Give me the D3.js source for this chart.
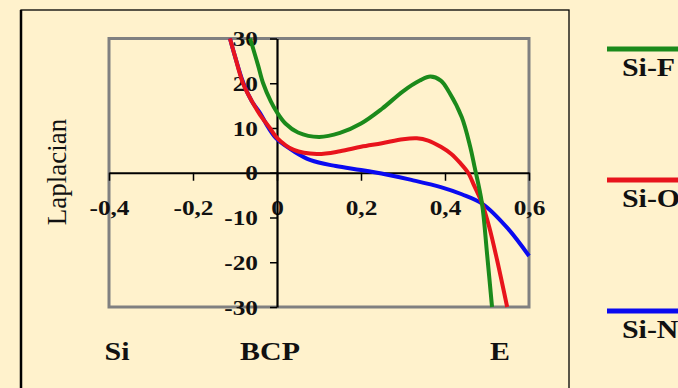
<!DOCTYPE html>
<html>
<head>
<meta charset="utf-8">
<script src="https://cdn.jsdelivr.net/npm/d3@7"></script>
<style>
  html, body { margin: 0; padding: 0; background: #FFF2CC; }
  svg { display: block; }
  text { font-family: "Liberation Serif", "Times New Roman", serif; }
</style>
</head>
<body>
<svg id="chart" width="678" height="388"></svg>
<script>
// Laplacian profiles along the bond path (Si -> BCP -> E)
const xTicks = [-0.4, -0.2, 0, 0.2, 0.4, 0.6];
const yTicks = [-30, -20, -10, 0, 10, 20, 30];

const siFx = [-0.064, -0.045, -0.033, -0.015, 0, 0.02, 0.05, 0.1, 0.15, 0.2, 0.25, 0.3, 0.34, 0.365, 0.39, 0.41, 0.44, 0.46, 0.47, 0.488, 0.5, 0.512];
const siFy = [30, 24, 20, 16, 13.5, 11, 9, 8, 8.9, 11, 14.3, 18.2, 20.6, 21.5, 20.6, 18, 12.4, 5.8, 1.5, -6.8, -18, -30];

const siOx = [-0.112, -0.1, -0.081, -0.06, -0.04, -0.017, 0, 0.04, 0.095, 0.15, 0.2, 0.25, 0.3, 0.333, 0.36, 0.39, 0.415, 0.436, 0.455, 0.47, 0.488, 0.505, 0.524, 0.548];
const siOy = [30, 26, 20, 16, 12.9, 10, 7.8, 5.1, 4.2, 4.8, 5.8, 6.6, 7.5, 7.7, 7.2, 5.8, 4.2, 2.2, 0, -3, -6.8, -12, -19.5, -30];

const siNx = [-0.112, -0.1, -0.08, -0.06, -0.04, -0.02, 0, 0.04, 0.08, 0.14, 0.2, 0.26, 0.32, 0.39, 0.44, 0.49, 0.55, 0.6];
const siNy = [30, 26, 20, 16, 13.3, 10, 7.5, 4.8, 2.8, 1.5, 0.6, -0.4, -1.6, -3.2, -4.8, -7, -12.5, -18.6];

const seriesNames = ["Si-F", "Si-O", "Si-N"];
const seriesColors = ["#1B8A1B", "#E8141C", "#0A0AF0"];
const pointLabels = ["Si", "BCP", "E"];

const series = [
  { name: seriesNames[0], color: seriesColors[0], xs: siFx, ys: siFy },
  { name: seriesNames[1], color: seriesColors[1], xs: siOx, ys: siOy },
  { name: seriesNames[2], color: seriesColors[2], xs: siNx, ys: siNy }
];

const svg = d3.select("#chart");
const plot = { left: 109, right: 529, top: 38.5, bottom: 307 };
const stretch = 1.15; // wide serif lettering

const x = d3.scaleLinear().domain([-0.4, 0.6]).range([plot.left, plot.right]);
const y = d3.scaleLinear().domain([-30, 30]).range([plot.bottom, plot.top]);

// outer chart frame
svg.append("rect")
  .attr("x", 21).attr("y", 10).attr("width", 548).attr("height", 400)
  .attr("fill", "none").attr("stroke", "#000").attr("stroke-width", 1.3);
svg.append("line")
  .attr("x1", 21).attr("x2", 21).attr("y1", 10).attr("y2", 388)
  .attr("stroke", "#000").attr("stroke-width", 2.5);

// plot area border
svg.append("rect")
  .attr("x", plot.left).attr("y", plot.top)
  .attr("width", plot.right - plot.left).attr("height", plot.bottom - plot.top)
  .attr("fill", "none").attr("stroke", "#808080").attr("stroke-width", 3);

const fmt = d => d === 0 ? "0" : d3.format(".1f")(d).replace(".", ",").replace("−", "-");

// x axis through Laplacian = 0
const gx = svg.append("g")
  .attr("transform", `translate(0,${y(0)})`)
  .call(d3.axisBottom(x).tickValues(xTicks).tickFormat(fmt).tickSize(8).tickSizeOuter(0).tickPadding(19));
// y axis through x = 0 (BCP)
const gy = svg.append("g")
  .attr("transform", `translate(${x(0)},0)`)
  .call(d3.axisLeft(y).tickValues(yTicks).tickFormat(d => d3.format("d")(d).replace("−", "-")).tickSize(7).tickSizeOuter(0).tickPadding(12));

[gx, gy].forEach(g => {
  g.select(".domain").attr("stroke", "#000").attr("stroke-width", 2.2);
  g.selectAll(".tick line").attr("stroke", "#000").attr("stroke-width", 1.5);
  g.selectAll(".tick text")
    .attr("fill", "#111")
    .style("font-family", "'Liberation Serif', serif")
    .style("font-weight", "bold")
    .style("font-size", "22px");
});
// widen tick labels about their anchor
gx.selectAll(".tick text").attr("transform", `scale(${stretch},1)`);
gy.selectAll(".tick text")
  .attr("x", -19 / stretch)
  .attr("transform", `scale(${stretch},1)`);

// curves
const line = d3.line()
  .x(d => x(d[0]))
  .y(d => y(d[1]))
  .curve(d3.curveCatmullRom.alpha(0.5));

series.slice().reverse().forEach(s => {
  svg.append("path")
    .datum(d3.zip(s.xs, s.ys))
    .attr("d", line)
    .attr("fill", "none")
    .attr("stroke", s.color)
    .attr("stroke-width", 4)
    .attr("stroke-linecap", "butt");
});

// y axis title
svg.append("text")
  .attr("transform", "translate(66,172) rotate(-90)")
  .attr("text-anchor", "middle")
  .style("font-size", "27px")
  .attr("fill", "#111")
  .text("Laplacian");

// labels for nucleus, bond critical point and end point
const labelPos = [117, 270, 500];
pointLabels.forEach((t, i) => {
  svg.append("text")
    .attr("transform", `translate(${labelPos[i]},360) scale(${stretch},1)`)
    .attr("text-anchor", "middle")
    .style("font-size", "26px").style("font-weight", "bold")
    .attr("fill", "#111")
    .text(t);
});

// legend
const legendY = [49, 180, 311];
series.forEach((s, i) => {
  svg.append("line")
    .attr("x1", 607).attr("x2", 690)
    .attr("y1", legendY[i]).attr("y2", legendY[i])
    .attr("stroke", s.color).attr("stroke-width", 5);
  svg.append("text")
    .attr("transform", `translate(622,${legendY[i] + 27}) scale(${stretch},1)`)
    .style("font-size", "26px").style("font-weight", "bold")
    .attr("fill", "#111")
    .text(s.name);
});
</script>
</body>
</html>
